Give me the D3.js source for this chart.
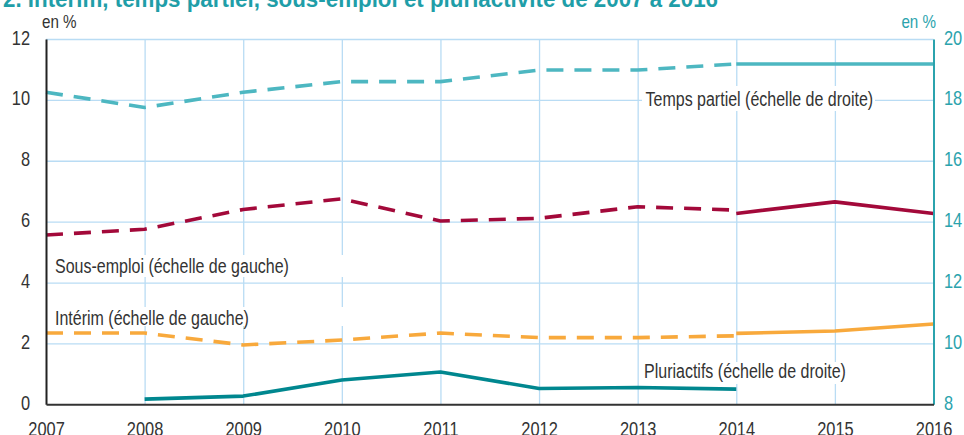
<!DOCTYPE html>
<html><head><meta charset="utf-8">
<script src="https://cdn.jsdelivr.net/npm/d3@7"></script>
<style>
html,body{margin:0;padding:0;background:#fff;overflow:hidden;}
svg{display:block;font-family:"Liberation Sans",Arial,sans-serif;}
</style></head>
<body>
<svg id="c" width="964" height="435"></svg>
<script>
// ---- data ----
const years = [2007,2008,2009,2010,2011,2012,2013,2014,2015,2016];
const leftTicks = [0,2,4,6,8,10,12];
const rightTicks = [8,10,12,14,16,18,20];
// old series (dashed) 2007-2014, new series (solid) 2014-2016
const yearsOld = [2007,2008,2009,2010,2011,2012,2013,2014];
const yearsNew = [2014,2015,2016];
const sousEmploiOld = [5.56,5.75,6.40,6.75,6.02,6.11,6.49,6.38];
const sousEmploiNew = [6.27,6.65,6.27];
const interimOld = [2.34,2.34,1.95,2.11,2.34,2.19,2.19,2.25];
const interimNew = [2.33,2.41,2.64];
const tempsPartielOld = [18.25,17.75,18.25,18.60,18.60,18.98,18.98,19.18];
const tempsPartielNew = [19.18,19.18,19.18];
const yearsPluri = [2008,2009,2010,2011,2012,2013,2014];
const pluriactifs = [8.17,8.27,8.80,9.06,8.52,8.55,8.50];

const title = "2. Intérim, temps partiel, sous-emploi et pluriactivité de 2007 à 2016";

// ---- layout ----
const W = 964, H = 435;
const m = {left:46, right:30.5, top:39, bottom:30.7};
const x = d3.scaleLinear().domain([2007,2016]).range([m.left, W-m.right]);
const yL = d3.scaleLinear().domain([0,12]).range([H-m.bottom, m.top]);
const yR = d3.scaleLinear().domain([8,20]).range([H-m.bottom, m.top]);

const C = {
  grid:"#b9dcf4", text:"#333333", teal:"#2ba3ad",
  crimson:"#a3093a", orange:"#f8a93c", tp:"#4db7c1", pluri:"#00878f", title:"#1f9ea8"
};

// condensed look: squeeze glyphs horizontally
function condense(sel, ratio){
  sel.each(function(){
    const w = this.getComputedTextLength();
    this.setAttribute("textLength", (w*ratio).toFixed(2));
    this.setAttribute("lengthAdjust","spacingAndGlyphs");
  });
}

const svg = d3.select("#c");

// title (partly cut at the top)
const tt = svg.append("text").attr("x",3).attr("y",7)
  .attr("font-size",23).attr("font-weight","bold").attr("fill",C.title)
  .text(title);
tt.attr("textLength",715).attr("lengthAdjust","spacingAndGlyphs");

// gridlines
svg.append("g").attr("transform",`translate(0,${H-m.bottom})`)
  .call(d3.axisBottom(x).tickValues(years.slice(1,-1)).tickSize(-(H-m.bottom-m.top)).tickFormat(""))
  .call(g=>g.select(".domain").remove())
  .call(g=>g.selectAll("line").attr("stroke",C.grid).attr("stroke-width",1.3));
svg.append("g").attr("transform",`translate(${m.left},0)`)
  .call(d3.axisLeft(yL).tickValues(leftTicks.slice(1)).tickSize(-(W-m.left-m.right)).tickFormat(""))
  .call(g=>g.select(".domain").remove())
  .call(g=>g.selectAll("line").attr("stroke",C.grid).attr("stroke-width",1.3));

// series labels with white backgrounds
const labels = [
  {t:"Sous-emploi (échelle de gauche)", x:55, y:273, box:[48,255,297,22]},
  {t:"Intérim (échelle de gauche)", x:55, y:324.5, box:[48,307,297,19]},
  {t:"Temps partiel (échelle de droite)", x:645.5, y:106, box:[642,86,233,25]},
  {t:"Pluriactifs (échelle de droite)", x:644, y:378, box:[641,362,208,22]}
];
labels.forEach(l=>{
  svg.append("rect").attr("x",l.box[0]).attr("y",l.box[1]).attr("width",l.box[2]).attr("height",l.box[3]).attr("fill","#fff");
  svg.append("text").attr("x",l.x).attr("y",l.y).attr("font-size",20).attr("fill",C.text).text(l.t)
    .call(condense, 0.8);
});

// lines
const mk = (yy)=>d3.line().x(d=>x(d[0])).y(d=>yy(d[1]));
function draw(xs, vs, yy, color, dashed){
  svg.append("path").datum(xs.map((v,i)=>[v,vs[i]]))
    .attr("d", mk(yy)).attr("fill","none").attr("stroke",color)
    .attr("stroke-width",3.6).attr("stroke-linejoin","round")
    .attr("stroke-dasharray", dashed ? "17,11" : null);
}
draw(yearsOld, tempsPartielOld, yR, C.tp, true);
draw(yearsNew, tempsPartielNew, yR, C.tp, false);
draw(yearsOld, sousEmploiOld, yL, C.crimson, true);
draw(yearsNew, sousEmploiNew, yL, C.crimson, false);
draw(yearsOld, interimOld, yL, C.orange, true);
draw(yearsNew, interimNew, yL, C.orange, false);
draw(yearsPluri, pluriactifs, yR, C.pluri, false);

// axes
const gL = svg.append("g").attr("transform",`translate(${m.left},0)`)
  .call(d3.axisLeft(yL).tickValues(leftTicks).tickSize(0).tickPadding(16).tickFormat(d3.format("d")));
gL.select(".domain").attr("stroke","#222").attr("stroke-width",2);
gL.selectAll("text").attr("font-size",20).attr("fill",C.text).attr("font-family",null).attr("dy","0.25em").call(condense,0.82);

const gR = svg.append("g").attr("transform",`translate(${W-m.right},0)`)
  .call(d3.axisRight(yR).tickValues(rightTicks).tickSize(0).tickPadding(10.5).tickFormat(d3.format("d")));
gR.select(".domain").attr("stroke",C.teal).attr("stroke-width",2);
gR.selectAll("text").attr("font-size",20).attr("fill",C.teal).attr("font-family",null).attr("dy","0.25em").call(condense,0.82);

const gB = svg.append("g").attr("transform",`translate(0,${H-m.bottom})`)
  .call(d3.axisBottom(x).tickValues(years).tickSize(0).tickPadding(0).tickFormat(d3.format("d")));
gB.select(".domain").attr("stroke","#333").attr("stroke-width",2);
gB.selectAll("text").attr("font-size",20).attr("fill",C.text).attr("font-family",null).attr("dy",null).attr("y",31.5).call(condense,0.82);

// units
svg.append("text").attr("x",42).attr("y",28).attr("font-size",18.5).attr("fill",C.text).text("en %").call(condense,0.82);
svg.append("text").attr("x",936).attr("y",28).attr("text-anchor","end").attr("font-size",18.5).attr("fill",C.teal).text("en %").call(condense,0.82);
</script>
</body></html>
